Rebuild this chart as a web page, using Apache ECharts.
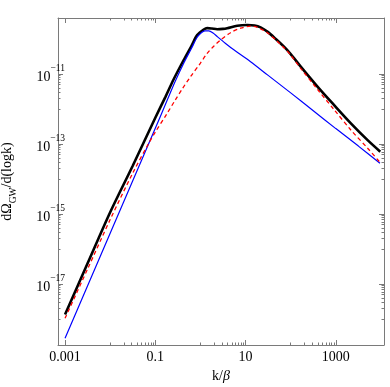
<!DOCTYPE html>
<html>
<head>
<meta charset="utf-8">
<script src="https://cdn.jsdelivr.net/npm/echarts@6/dist/echarts.min.js"></script>
<style>
  html, body { margin: 0; padding: 0; background: #fff; }
  #chart { width: 390px; height: 387px; }
</style>
</head>
<body>
<div id="chart"></div>
<script>
// all values are log10: x = log10(k/beta), y = log10(dOmega/dlogk)
var blueCurve = [
  [-3, -18.55], [-2.5, -17.05], [-2, -15.55], [-1.5, -14.05], [-1, -12.55],
  [-0.74, -11.76], [-0.556, -11.2], [-0.371, -10.69], [-0.2, -10.27], [-0.073, -9.95],
  [0.02, -9.82], [0.1, -9.77], [0.184, -9.77], [0.28, -9.83], [0.371, -9.93],
  [0.55, -10.12], [0.74, -10.31], [1.111, -10.65], [1.5, -11.04], [2, -11.54],
  [2.5, -12.05], [3, -12.56], [3.5, -13.06], [3.978, -13.55]
];
var redCurve = [
  [-3, -17.98], [-2.5, -16.57], [-2, -15.16], [-1.5, -13.83], [-1.15, -12.99],
  [-1, -12.66], [-0.75, -12.15], [-0.556, -11.74], [-0.4, -11.42], [-0.222, -11.08],
  [0, -10.69], [0.149, -10.41], [0.3, -10.2], [0.444, -10.03], [0.667, -9.82],
  [0.889, -9.69], [1.111, -9.635], [1.25, -9.66], [1.482, -9.82], [1.67, -10.03],
  [1.851, -10.25], [2.0, -10.46], [2.222, -10.84], [2.593, -11.44], [2.962, -12.02],
  [3.333, -12.6], [3.704, -13.12], [3.962, -13.5]
];
var blackCurve = [
  [-3, -17.87], [-2.5, -16.41], [-2, -14.95], [-1.5, -13.62], [-1, -12.25],
  [-0.778, -11.66], [-0.593, -11.15], [-0.371, -10.6], [-0.2, -10.2], [-0.073, -9.89],
  [0.073, -9.73], [0.15, -9.69], [0.25, -9.7], [0.371, -9.72], [0.5, -9.71],
  [0.593, -9.69], [0.816, -9.62], [1.04, -9.6], [1.2, -9.615], [1.333, -9.67],
  [1.482, -9.79], [1.67, -10.0], [1.851, -10.22], [2.0, -10.43], [2.222, -10.79],
  [2.593, -11.36], [2.962, -11.89], [3.333, -12.41], [3.704, -12.89], [3.984, -13.22]
];

var xTickPos = [-3, -1, 1, 3];
var xTickLabels = ['0.001', '0.1', '10', '1000'];
var yTickPos = [-11, -13, -15, -17];
var xMinorDecades = [-2, 0, 2];
var yMinorDecades = [-12, -14, -16, -18];

var xMin = -3.156, xMax = 4.067;
var yMin = -18.743, yMax = -9.4;

function minorTicks(decades) {
  var out = [];
  decades.forEach(function (n) {
    for (var m = 1; m <= 9; m++) out.push(n + Math.log10(m));
  });
  return out;
}
var xMinor = minorTicks(xMinorDecades);
var yMinor = minorTicks(yMinorDecades);

var frameColor = '#7a7a7a';
var serif = 'Liberation Serif';

function frameAxis(pos, ticks, len, showLine, extra) {
  var ax = {
    type: 'value',
    position: pos,
    min: pos == 'bottom' || pos == 'top' ? xMin : yMin,
    max: pos == 'bottom' || pos == 'top' ? xMax : yMax,
    axisLine: { show: showLine, onZero: false, lineStyle: { color: frameColor, width: 1 } },
    axisTick: { show: true, inside: true, length: len, customValues: ticks,
                lineStyle: { color: frameColor, width: 1 } },
    axisLabel: { show: false },
    splitLine: { show: false }
  };
  for (var k in extra) ax[k] = extra[k];
  return ax;
}

var chart = echarts.init(document.getElementById('chart'));
chart.setOption({
  animation: false,
  grid: { left: 58, right: 6, top: 18, bottom: 42, containLabel: false, outerBoundsMode: 'none' },
  xAxis: [
    frameAxis('bottom', xTickPos, 5, true, {
      name: '{n|k/}{i|β}',
      nameLocation: 'middle',
      nameGap: 24,
      nameTextStyle: {
        rich: {
          n: { fontFamily: serif, fontSize: 14, color: '#000' },
          i: { fontFamily: serif, fontSize: 14, fontStyle: 'italic', color: '#000' }
        }
      },
      axisLabel: {
        show: true, customValues: xTickPos, margin: 5,
        fontFamily: serif, fontSize: 14, color: '#000',
        formatter: function (v) { return xTickLabels[xTickPos.indexOf(v)]; }
      }
    }),
    frameAxis('bottom', xMinor, 2.5, false, {}),
    frameAxis('top', xTickPos, 5, true, {}),
    frameAxis('top', xMinor, 2.5, false, {})
  ],
  yAxis: [
    frameAxis('left', yTickPos, 5, true, {
      name: '{a|dΩ}{g|GW}{a|/d(logk)}',
      nameLocation: 'middle',
      nameGap: 40,
      nameRotate: 90,
      nameTextStyle: {
        rich: {
          a: { fontFamily: serif, fontSize: 14, color: '#000', lineHeight: 18, verticalAlign: 'top' },
          g: { fontFamily: serif, fontSize: 9.5, color: '#000', lineHeight: 18, verticalAlign: 'bottom' }
        }
      },
      axisLabel: {
        show: true, customValues: yTickPos, margin: -7,
        formatter: function (v) { return '{b|10}{s|−' + Math.abs(v) + '}'; },
        rich: {
          b: { fontFamily: serif, fontSize: 14, color: '#000', lineHeight: 20, verticalAlign: 'bottom' },
          s: { fontFamily: serif, fontSize: 9.5, color: '#000', lineHeight: 20, verticalAlign: 'top' }
        }
      }
    }),
    frameAxis('left', yMinor, 2.5, false, {}),
    frameAxis('right', yTickPos, 5, true, {}),
    frameAxis('right', yMinor, 2.5, false, {})
  ],
  series: [
    {
      name: 'total', type: 'line', data: blackCurve, showSymbol: false,
      xAxisIndex: 0, yAxisIndex: 0, smooth: 0.3,
      lineStyle: { color: '#000', width: 2.6 }
    },
    {
      name: 'collisions', type: 'line', data: blueCurve, showSymbol: false,
      xAxisIndex: 0, yAxisIndex: 0, smooth: 0.3,
      lineStyle: { color: '#0000ff', width: 1.2 }
    },
    {
      name: 'sound', type: 'line', data: redCurve, showSymbol: false,
      xAxisIndex: 0, yAxisIndex: 0, smooth: 0.3,
      lineStyle: { color: '#ff0000', width: 1.3, type: [4, 3] }
    }
  ]
});
</script>
</body>
</html>
